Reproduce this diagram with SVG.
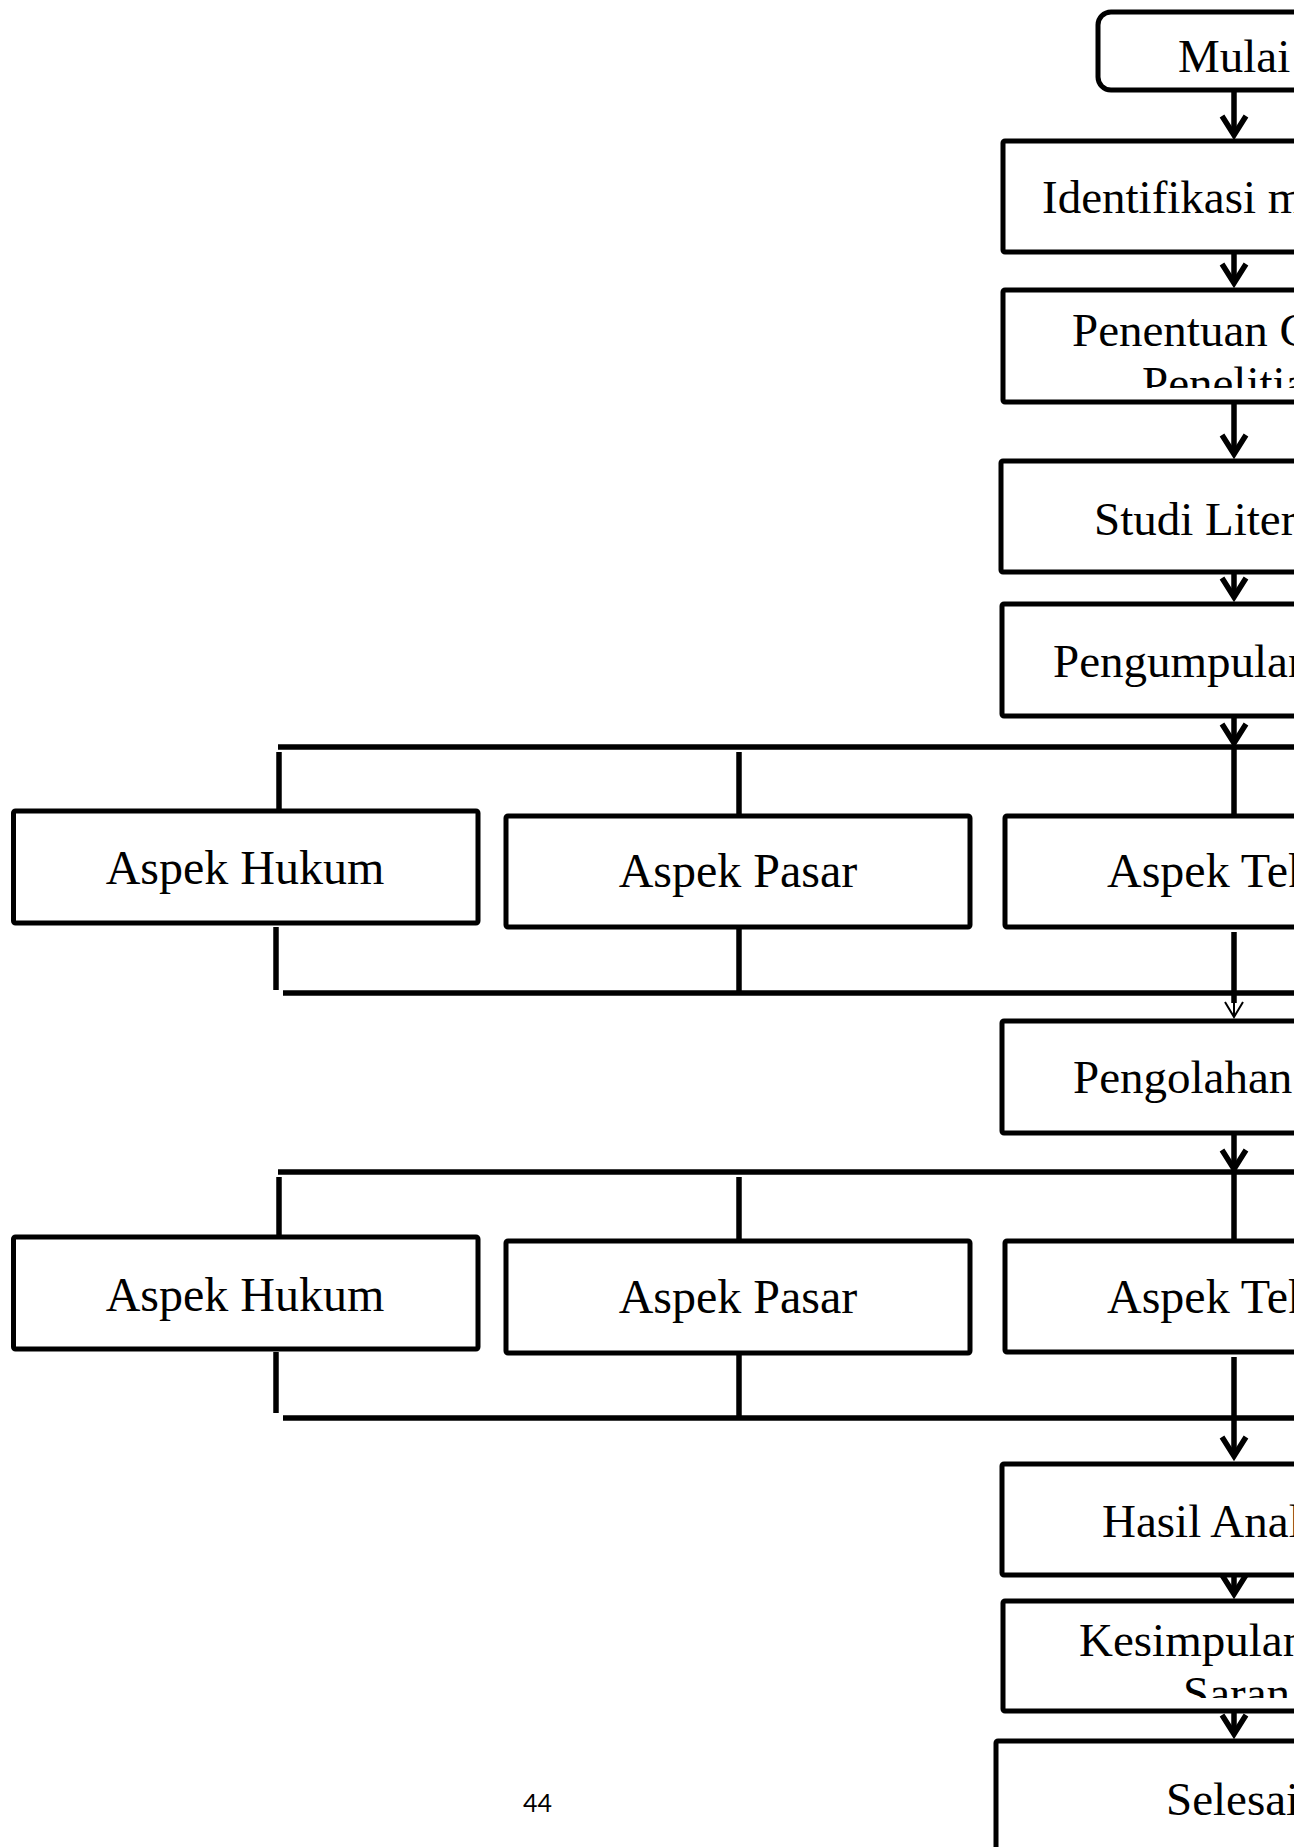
<svg xmlns="http://www.w3.org/2000/svg" width="1294" height="1847" viewBox="0 0 1294 1847">
<style>
.box{fill:#fff;stroke:#000;stroke-width:5;stroke-linejoin:round}
.t{font-family:"Liberation Serif","Times New Roman",serif;font-size:47px;fill:#000}
.ta{font-family:"Liberation Serif","Times New Roman",serif;font-size:48px;fill:#000;text-anchor:middle}
.ln{fill:none;stroke:#000;stroke-width:5.5}
.arr{fill:none;stroke:#000;stroke-width:5.5;marker-end:url(#ah)}
.pg{font-family:Lato,"Open Sans",sans-serif;font-size:25px;fill:#000}
</style>
<defs>
<marker id="ah" markerUnits="userSpaceOnUse" markerWidth="40" markerHeight="40" refX="0" refY="0" viewBox="-30 -20 40 40" orient="auto" overflow="visible">
<path d="M-19,-12 L0,0 L-19,12" fill="none" stroke="#000" stroke-width="5.5" stroke-linejoin="miter"/>
</marker>
<marker id="ahThin" markerUnits="userSpaceOnUse" markerWidth="30" markerHeight="30" refX="0" refY="0" viewBox="-20 -15 30 30" orient="auto" overflow="visible">
<path d="M-15,-9 L0,0 L-15,9" fill="none" stroke="#000" stroke-width="2"/>
</marker>
<clipPath id="cpPen"><rect x="1006" y="293" width="300" height="95"/></clipPath>
<clipPath id="cpKes"><rect x="1006" y="1604" width="300" height="94"/></clipPath>
</defs>

<g id="connectors">
<!-- main spine arrows -->
<path class="arr" d="M1234,90 V135"/>
<path class="arr" d="M1234,252 V283"/>
<path class="arr" d="M1234,402 V454"/>
<path class="arr" d="M1234,572 V597"/>
<path class="arr" d="M1234,716 V743"/>
<!-- group 1 branch lines -->
<path class="ln" d="M278,747 H1300"/>
<path class="ln" d="M279,752 V811"/>
<path class="ln" d="M739,752 V816"/>
<path class="ln" d="M1234,747 V816"/>
<path class="ln" d="M276,927 V990"/>
<path class="ln" d="M739,927 V993"/>
<path class="ln" d="M283,993 H1300"/>
<path class="ln" d="M1234,932 V1003"/>
<path d="M1234,1000 V1017" fill="none" stroke="#000" stroke-width="2" marker-end="url(#ahThin)"/>
<!-- to group 2 -->
<path class="arr" d="M1234,1133 V1169"/>
<path class="ln" d="M278,1172 H1300"/>
<path class="ln" d="M279,1177 V1237"/>
<path class="ln" d="M739,1177 V1241"/>
<path class="ln" d="M1234,1172 V1241"/>
<path class="ln" d="M276,1352 V1413"/>
<path class="ln" d="M739,1353 V1418"/>
<path class="ln" d="M283,1418 H1300"/>
<path class="arr" d="M1234,1357 V1456"/>
<path class="arr" d="M1234,1575 V1594"/>
<path class="arr" d="M1234,1711 V1734"/>
</g>

<g id="node-mulai">
<rect class="box" x="1098" y="12" width="300" height="78" rx="13"/>
<text class="t" x="1178" y="72">Mulai</text>
</g>
<g id="node-identifikasi">
<rect class="box" x="1003" y="141" width="464" height="111" rx="2"/>
<text class="t" x="1042" y="213">Identifikasi m</text>
</g>
<g id="node-penentuan">
<rect class="box" x="1003" y="290" width="464" height="112" rx="2"/>
<text class="t" x="1072" y="346">Penentuan C</text>
<text class="t" x="1142" y="399" clip-path="url(#cpPen)">Penelitia</text>
</g>
<g id="node-studi">
<rect class="box" x="1001" y="461" width="464" height="111" rx="2"/>
<text class="t" x="1094" y="535">Studi Liter</text>
</g>
<g id="node-pengumpulan">
<rect class="box" x="1002" y="604" width="464" height="112" rx="2"/>
<text class="t" x="1053" y="677">Pengumpulan</text>
</g>

<g id="node-hukum-1">
<rect class="box" x="13.5" y="811" width="464.5" height="112" rx="2"/>
<text class="ta" x="245" y="884">Aspek Hukum</text>
</g>
<g id="node-pasar-1">
<rect class="box" x="506" y="816" width="464" height="111" rx="2"/>
<text class="ta" x="738" y="887">Aspek Pasar</text>
</g>
<g id="node-teknis-1">
<rect class="box" x="1005" y="816" width="464" height="111" rx="2"/>
<text class="t" x="1107" y="887" style="font-size:48px">Aspek Tek</text>
</g>

<g id="node-pengolahan">
<rect class="box" x="1002" y="1021" width="464" height="112" rx="2"/>
<text class="t" x="1073" y="1093">Pengolahan</text>
</g>

<g id="node-hukum-2">
<rect class="box" x="13.5" y="1237" width="464.5" height="112" rx="2"/>
<text class="ta" x="245" y="1311">Aspek Hukum</text>
</g>
<g id="node-pasar-2">
<rect class="box" x="506" y="1241" width="464" height="112" rx="2"/>
<text class="ta" x="738" y="1313">Aspek Pasar</text>
</g>
<g id="node-teknis-2">
<rect class="box" x="1005" y="1241" width="464" height="111" rx="2"/>
<text class="t" x="1107" y="1313" style="font-size:48px">Aspek Tek</text>
</g>

<g id="node-hasil">
<rect class="box" x="1002" y="1464" width="464" height="111" rx="2"/>
<text class="t" x="1102" y="1537">Hasil Anal</text>
</g>
<g id="node-kesimpulan">
<rect class="box" x="1003" y="1601" width="464" height="110" rx="2"/>
<text class="t" x="1079" y="1656">Kesimpulan</text>
<text class="t" x="1183" y="1709" clip-path="url(#cpKes)">Saran</text>
</g>
<g id="node-selesai">
<rect class="box" x="996" y="1741" width="480" height="140" rx="2"/>
<text class="t" x="1166" y="1815">Selesai</text>
</g>

<text class="pg" x="523" y="1812">44</text>
</svg>
